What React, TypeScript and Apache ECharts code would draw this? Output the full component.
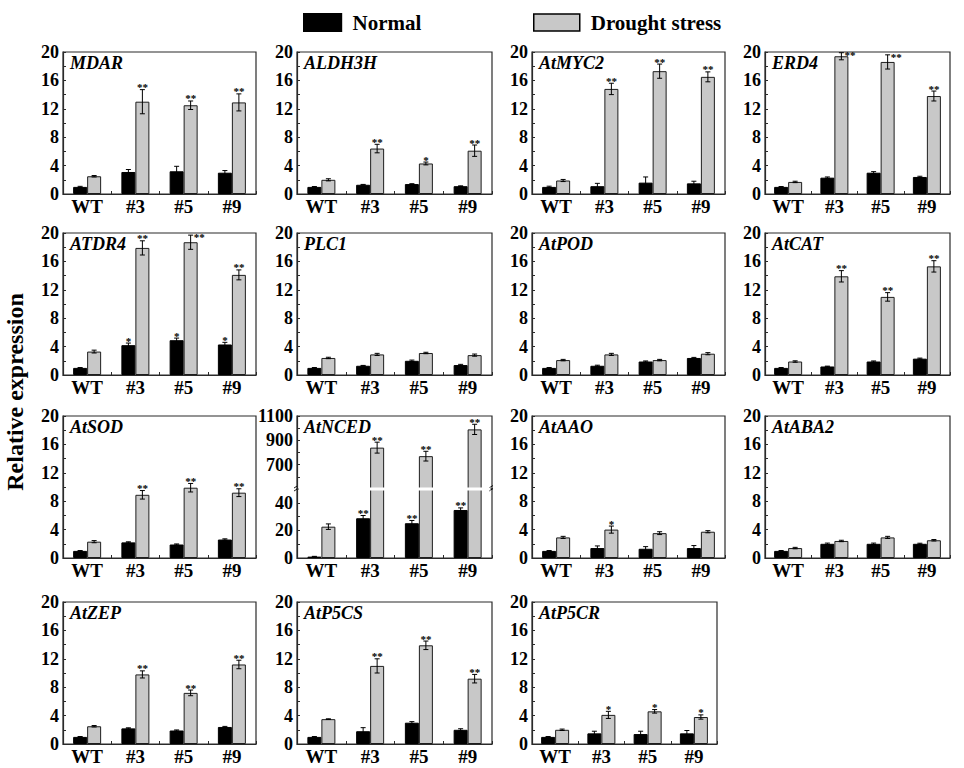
import React, { useEffect, useRef } from "react";
import * as echarts from "echarts";

const FONT = '"Liberation Serif", "Times New Roman", serif';

const categories = ["WT", "#3", "#5", "#9"];
const genes = [
  "MDAR", "ALDH3H", "AtMYC2", "ERD4",
  "ATDR4", "PLC1", "AtPOD", "AtCAT",
  "AtSOD", "AtNCED", "AtAAO", "AtABA2",
  "AtZEP", "AtP5CS", "AtP5CR",
];

const normalValues = [
  [1.0, 3.1, 3.2, 3.0],
  [1.0, 1.3, 1.4, 1.1],
  [1.0, 1.1, 1.6, 1.5],
  [1.0, 2.3, 3.0, 2.4],
  [1.0, 4.2, 4.9, 4.3],
  [1.0, 1.3, 2.0, 1.4],
  [1.0, 1.3, 1.9, 2.4],
  [1.0, 1.2, 1.9, 2.3],
  [1.0, 2.2, 1.9, 2.6],
  [1.0, 28.8, 25.2, 34.8],
  [1.0, 1.4, 1.3, 1.4],
  [1.0, 2.0, 2.0, 2.0],
  [1.0, 2.2, 1.9, 2.4],
  [1.0, 1.8, 3.0, 2.0],
  [1.0, 1.5, 1.4, 1.5],
];
const normalErrors = [
  [0.08, 0.35, 0.7, 0.3],
  [0.05, 0.05, 0.05, 0.05],
  [0.1, 0.4, 0.8, 0.3],
  [0.05, 0.1, 0.15, 0.1],
  [0.05, 0.3, 0.3, 0.3],
  [0.05, 0.05, 0.1, 0.1],
  [0.05, 0.08, 0.08, 0.08],
  [0.05, 0.05, 0.08, 0.08],
  [0.05, 0.08, 0.08, 0.1],
  [0.2, 2.0, 2.0, 1.5],
  [0.05, 0.3, 0.3, 0.35],
  [0.05, 0.1, 0.1, 0.08],
  [0.05, 0.08, 0.08, 0.08],
  [0.05, 0.5, 0.15, 0.15],
  [0.05, 0.3, 0.4, 0.4],
];
const droughtValues = [
  [2.5, 13.0, 12.5, 12.9],
  [2.0, 6.4, 4.3, 6.1],
  [1.9, 14.8, 17.3, 16.5],
  [1.7, 19.4, 18.6, 13.8],
  [3.3, 17.9, 18.7, 14.1],
  [2.4, 2.9, 3.1, 2.8],
  [2.1, 2.9, 2.1, 3.0],
  [1.9, 13.9, 11.0, 15.3],
  [2.3, 8.9, 9.9, 9.2],
  [22.7, 840, 770, 990],
  [2.9, 4.0, 3.5, 3.7],
  [1.4, 2.4, 2.9, 2.5],
  [2.5, 9.8, 7.2, 11.2],
  [3.5, 11.0, 13.9, 9.2],
  [2.0, 4.1, 4.6, 3.8],
];
const droughtErrors = [
  [0.1, 1.7, 0.6, 1.2],
  [0.15, 0.6, 0.2, 0.8],
  [0.15, 0.8, 1.0, 0.7],
  [0.1, 0.5, 1.0, 0.7],
  [0.2, 1.0, 1.0, 0.7],
  [0.1, 0.15, 0.1, 0.15],
  [0.1, 0.15, 0.1, 0.15],
  [0.1, 0.8, 0.6, 0.8],
  [0.15, 0.6, 0.6, 0.55],
  [2.0, 45, 40, 42],
  [0.15, 0.5, 0.2, 0.15],
  [0.1, 0.1, 0.15, 0.1],
  [0.1, 0.5, 0.4, 0.6],
  [0.05, 1.0, 0.6, 0.6],
  [0.1, 0.5, 0.25, 0.3],
];
const normalStars = [
  ["", "", "", ""], ["", "", "", ""], ["", "", "", ""], ["", "", "", ""],
  ["", "*", "*", "*"], ["", "", "", ""], ["", "", "", ""], ["", "", "", ""],
  ["", "", "", ""], ["", "**", "**", "**"], ["", "", "", ""], ["", "", "", ""],
  ["", "", "", ""], ["", "", "", ""], ["", "", "", ""],
];
const droughtStars = [
  ["", "**", "**", "**"], ["", "**", "*", "**"], ["", "**", "**", "**"], ["", "**", "**", "**"],
  ["", "**", "**", "**"], ["", "", "", ""], ["", "", "", ""], ["", "**", "**", "**"],
  ["", "**", "**", "**"], ["", "**", "**", "**"], ["", "*", "", ""], ["", "", "", ""],
  ["", "**", "**", "**"], ["", "**", "**", "**"], ["", "*", "*", "*"],
];

const DEFAULT_AXIS = { min: 0, max: 20, interval: 4 };
const BROKEN_GENE = "AtNCED";
const UPPER_AXIS = { min: 500, max: 1100, interval: 200, hideMin: true };
const LOWER_AXIS = { min: 0, max: 50, interval: 20, hideMax: true };

// layout
const ROW_TOPS = [52, 233, 416, 602];
const COL_LEFTS = [63, 297, 532, 765];
const COL_WIDTHS = [193, 195, 193, 185];
const WIDTH_OVERRIDE: Record<number, number> = { 14: 185 };
const PANEL_H = 142;
const UPPER_H = 73;
const BAR_W = 14;
const LINE_COLOR = "#2a2a2a";

function buildOption() {
  const grid: any[] = [];
  const xAxis: any[] = [];
  const yAxis: any[] = [];
  const series: any[] = [];
  const graphic: any[] = [];

  const addPanel = (g: number, left: number, top: number, width: number, height: number, ax: any, showX: boolean) => {
    const gi = grid.length;
    grid.push({
      left, top, width, height, show: true,
      borderColor: LINE_COLOR, borderWidth: 1.2, backgroundColor: "rgba(0,0,0,0)",
    });
    xAxis.push({
      type: "category", gridIndex: gi, data: categories, show: showX,
      axisLine: { show: true, lineStyle: { color: LINE_COLOR, width: 1.2 } },
      axisTick: { show: true, inside: true, length: 3, interval: 0, lineStyle: { color: LINE_COLOR } },
      axisLabel: { show: showX, interval: 0, margin: 3, color: "#000", fontFamily: FONT, fontWeight: "bold", fontSize: 19 },
      splitLine: { show: false },
    });
    yAxis.push({
      type: "value", gridIndex: gi, min: ax.min, max: ax.max, interval: ax.interval,
      axisLine: { show: true, lineStyle: { color: LINE_COLOR, width: 1.2 } },
      axisTick: { show: true, inside: true, length: 3, lineStyle: { color: LINE_COLOR } },
      minorTick: { show: true, splitNumber: 2, length: 3, lineStyle: { color: LINE_COLOR } },
      splitLine: { show: false },
      axisLabel: {
        margin: 4, color: "#000", fontFamily: FONT, fontWeight: "bold", fontSize: 18,
        showMinLabel: !ax.hideMin, showMaxLabel: !ax.hideMax,
        formatter: (v: number) => String(v),
      },
    });
    series.push({
      type: "bar", name: "Normal", xAxisIndex: gi, yAxisIndex: gi, data: normalValues[g],
      barWidth: BAR_W, barGap: "0%", clip: true, silent: true,
      itemStyle: { color: "#000", borderColor: "#000", borderWidth: 1 },
    });
    series.push({
      type: "bar", name: "Drought stress", xAxisIndex: gi, yAxisIndex: gi, data: droughtValues[g],
      barWidth: BAR_W, barGap: "0%", clip: true, silent: true,
      itemStyle: { color: "#c8c8c8", borderColor: "#1e1e1e", borderWidth: 1 },
    });
    const pts: any[] = [];
    categories.forEach((_, i) => {
      pts.push({ cat: i, val: normalValues[g][i], err: normalErrors[g][i], side: -1, stars: normalStars[g][i] });
      pts.push({ cat: i, val: droughtValues[g][i], err: droughtErrors[g][i], side: 1, stars: droughtStars[g][i] });
    });
    const vis = pts.filter((p) => p.val >= ax.min && p.val <= ax.max);
    series.push({
      type: "custom", xAxisIndex: gi, yAxisIndex: gi, silent: true, z: 4,
      data: vis.map((p) => [p.cat, p.val]),
      renderItem: (params: any, api: any) => {
        const p = vis[params.dataIndex];
        const base = api.coord([p.cat, p.val]);
        const x = base[0] + (p.side * BAR_W) / 2;
        const yTop = api.coord([p.cat, p.val + p.err])[1];
        const yBot = api.coord([p.cat, p.val - p.err])[1];
        const cs = params.coordSys;
        const ls = { stroke: "#000", lineWidth: 1 };
        const children: any[] = [
          { type: "line", shape: { x1: x, y1: yTop, x2: x, y2: yBot }, style: ls },
          { type: "line", shape: { x1: x - 2.5, y1: yTop, x2: x + 2.5, y2: yTop }, style: ls },
          { type: "line", shape: { x1: x - 2.5, y1: yBot, x2: x + 2.5, y2: yBot }, style: ls },
        ];
        if (p.stars) {
          const right = yTop - 10 < cs.y - 3;
          children.push({
            type: "text",
            x: right ? x + 3 : x,
            y: right ? yTop + 2 : yTop - 2.5,
            style: {
              text: p.stars,
              align: right ? "left" : "center",
              verticalAlign: "middle",
              font: `bold 11px ${FONT}`,
              fill: "#000",
            },
          });
        }
        return { type: "group", children };
      },
    });
  };

  genes.forEach((gene, g) => {
    const row = Math.floor(g / 4);
    const col = g % 4;
    const left = COL_LEFTS[col];
    const top = ROW_TOPS[row];
    const width = WIDTH_OVERRIDE[g] ?? COL_WIDTHS[col];
    if (gene === BROKEN_GENE) {
      addPanel(g, left, top, width, UPPER_H, UPPER_AXIS, false);
      addPanel(g, left, top + UPPER_H, width, PANEL_H - UPPER_H, LOWER_AXIS, true);
      const by = top + UPPER_H;
      graphic.push({
        type: "rect", z: 100, silent: true,
        shape: { x: left + 1.5, y: by - 1.6, width: width - 3, height: 3.2 },
        style: { fill: "#fff" },
      });
      [left, left + width].forEach((sx) => {
        graphic.push({
          type: "group", z: 101, silent: true,
          children: [
            { type: "line", shape: { x1: sx - 3, y1: by - 1, x2: sx + 1, y2: by - 3.5 }, style: { stroke: "#000", lineWidth: 0.9 } },
            { type: "line", shape: { x1: sx - 3, y1: by + 2, x2: sx + 1, y2: by - 0.5 }, style: { stroke: "#000", lineWidth: 0.9 } },
          ],
        });
      });
    } else {
      addPanel(g, left, top, width, PANEL_H, DEFAULT_AXIS, true);
    }
    graphic.push({
      type: "text", z: 50, silent: true, x: left + 7, y: top + 2,
      style: {
        text: gene, font: `italic bold 18px ${FONT}`, fill: "#000",
        align: "left", verticalAlign: "top",
      },
    });
  });

  graphic.push({
    type: "text", silent: true, x: 15, y: 392, rotation: Math.PI / 2,
    style: {
      text: "Relative expression", font: `bold 24px ${FONT}`, fill: "#000",
      align: "center", verticalAlign: "middle",
    },
  });

  const legendText = { fontFamily: FONT, fontWeight: "bold", fontSize: 21, color: "#000", padding: [0, 0, 0, 6] };
  const legend = [
    {
      data: ["Normal"], left: 298, top: 7, itemWidth: 38, itemHeight: 18, icon: "rect",
      selectedMode: false, textStyle: legendText, itemStyle: { borderColor: "#000", borderWidth: 1.2 },
    },
    {
      data: ["Drought stress"], left: 528, top: 7, itemWidth: 46, itemHeight: 17, icon: "rect",
      selectedMode: false, textStyle: legendText, itemStyle: { borderColor: "#000", borderWidth: 1.5 },
    },
  ];

  return {
    animation: false,
    backgroundColor: "#fff",
    textStyle: { fontFamily: FONT },
    legend, grid, xAxis, yAxis, series, graphic,
  };
}

export default function App() {
  const ref = useRef<HTMLDivElement>(null);
  useEffect(() => {
    const chart = echarts.init(ref.current as HTMLDivElement, null, { renderer: "svg" });
    chart.setOption(buildOption() as any);
    return () => chart.dispose();
  }, []);
  return (
    <div
      ref={ref}
      style={{ position: "fixed", left: 0, top: 0, width: 964, height: 768, background: "#fff" }}
    />
  );
}
